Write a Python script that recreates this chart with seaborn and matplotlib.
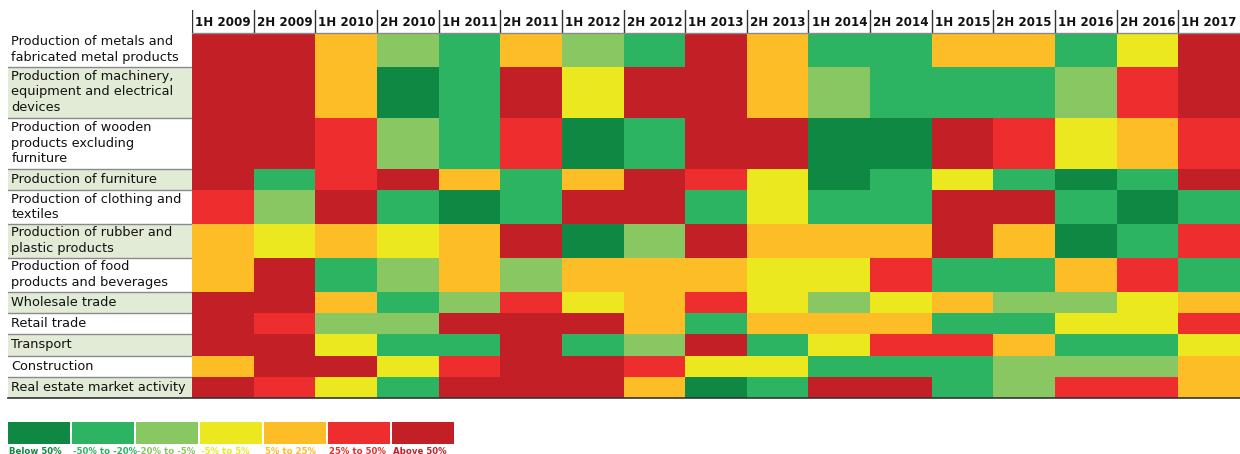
import numpy as np
import matplotlib
matplotlib.use("Agg")
import matplotlib.pyplot as plt
from matplotlib.colors import ListedColormap
from matplotlib.lines import Line2D
import seaborn as sns

# --- data (class codes: 0 = below -50% ... 6 = above 50%) ---
periods = ["1H 2009", "2H 2009", "1H 2010", "2H 2010", "1H 2011", "2H 2011",
           "1H 2012", "2H 2012", "1H 2013", "2H 2013", "1H 2014", "2H 2014",
           "1H 2015", "2H 2015", "1H 2016", "2H 2016", "1H 2017"]

sectors = ["Production of metals and\nfabricated metal products",
           "Production of machinery,\nequipment and electrical\ndevices",
           "Production of wooden\nproducts excluding\nfurniture",
           "Production of furniture",
           "Production of clothing and\ntextiles",
           "Production of rubber and\nplastic products",
           "Production of food\nproducts and beverages",
           "Wholesale trade",
           "Retail trade",
           "Transport",
           "Construction",
           "Real estate market activity"]

metals     = [6, 6, 4, 2, 1, 4, 2, 1, 6, 4, 1, 1, 4, 4, 1, 3, 6]
machinery  = [6, 6, 4, 0, 1, 6, 3, 6, 6, 4, 2, 1, 1, 1, 2, 5, 6]
wooden     = [6, 6, 5, 2, 1, 5, 0, 1, 6, 6, 0, 0, 6, 5, 3, 4, 5]
furniture  = [6, 1, 5, 6, 4, 1, 4, 6, 5, 3, 0, 1, 3, 1, 0, 1, 6]
clothing   = [5, 2, 6, 1, 0, 1, 6, 6, 1, 3, 1, 1, 6, 6, 1, 0, 1]
rubber     = [4, 3, 4, 3, 4, 6, 0, 2, 6, 4, 4, 4, 6, 4, 0, 1, 5]
food       = [4, 6, 1, 2, 4, 2, 4, 4, 4, 3, 3, 5, 1, 1, 4, 5, 1]
wholesale  = [6, 6, 4, 1, 2, 5, 3, 4, 5, 3, 2, 3, 4, 2, 2, 3, 4]
retail     = [6, 5, 2, 2, 6, 6, 6, 4, 1, 4, 4, 4, 1, 1, 3, 3, 5]
transport  = [6, 6, 3, 1, 1, 6, 1, 2, 6, 1, 3, 5, 5, 4, 1, 1, 3]
construct  = [4, 6, 6, 3, 5, 6, 6, 5, 3, 3, 1, 1, 1, 2, 2, 2, 4]
realestate = [6, 5, 3, 1, 6, 6, 6, 4, 0, 1, 6, 6, 1, 2, 5, 5, 4]

legend_labels = ["Below 50%", "-50% to -20%", "-20% to -5%", "-5% to 5%",
                 "5% to 25%", "25% to 50%", "Above 50%"]
colors = ["#0f8843", "#2cb462", "#89c763", "#ebe81f",
          "#fdbd26", "#ee2d2e", "#c21f26"]

# row heights (in text-line units) so the tall labels get taller rows
row_units = [8, 12, 12, 5, 8, 8, 8, 5, 5, 5, 5, 5]

grid = np.array([metals, machinery, wooden, furniture, clothing, rubber, food,
                 wholesale, retail, transport, construct, realestate])
grid_tall = np.repeat(grid, row_units, axis=0)

W, H = 1240, 454
fig = plt.figure(figsize=(W / 100, H / 100), dpi=100)

def px_axes(x0, y0, x1, y1):
    return fig.add_axes([x0 / W, 1 - y1 / H, (x1 - x0) / W, (y1 - y0) / H])

top, bottom = 32.5, 398
left, right = 192, 1240

# heatmap
ax = px_axes(left, top, right, bottom)
sns.heatmap(grid_tall, cmap=ListedColormap(colors), vmin=-0.5, vmax=6.5,
            cbar=False, ax=ax, xticklabels=False, yticklabels=False)
for s in ax.spines.values():
    s.set_visible(False)

# row label column
total = sum(row_units)
edges = np.concatenate([[0], np.cumsum(row_units)])
lab = px_axes(8, top, left, bottom)
lab.set_xlim(0, 1)
lab.set_ylim(total, 0)
lab.axis("off")
for i, name in enumerate(sectors):
    if i % 2 == 1:
        lab.axhspan(edges[i], edges[i + 1], color="#e2ebd6", lw=0)
    if i > 0:
        lab.axhline(edges[i], color="#8a8a8a", lw=1)
    lab.text(0.018, (edges[i] + edges[i + 1]) / 2, name, va="center", ha="left",
             fontsize=9.3, color="#111111", linespacing=1.25)

# header
hd = px_axes(left, 10, right, top)
hd.set_xlim(0, len(periods))
hd.set_ylim(0, 1)
hd.axis("off")
for j, p in enumerate(periods):
    hd.text(j + 0.5, 0.45, p, ha="center", va="center", fontsize=8.6,
            fontweight="bold", color="#111111")
    hd.plot([j, j], [0, 1], color="#333333", lw=1)

fig.add_artist(Line2D([left / W, 1], [1 - top / H] * 2, color="#8a8a8a", lw=1))
fig.add_artist(Line2D([8 / W, 1], [1 - bottom / H] * 2, color="#333333", lw=1.2))

# legend
lx0, lw_, gap = 8, 62, 2
for k, (c, t) in enumerate(zip(colors, legend_labels)):
    x0 = lx0 + k * (lw_ + gap)
    la = px_axes(x0, 422, x0 + lw_, 444)
    la.set_facecolor(c)
    la.set_xticks([])
    la.set_yticks([])
    for s in la.spines.values():
        s.set_visible(False)
    fig.text((x0 + 1) / W, 1 - 446.5 / H, t, ha="left", va="top", fontsize=6.2,
             fontweight="bold", color=c)

fig.savefig("out.png", dpi=100)
